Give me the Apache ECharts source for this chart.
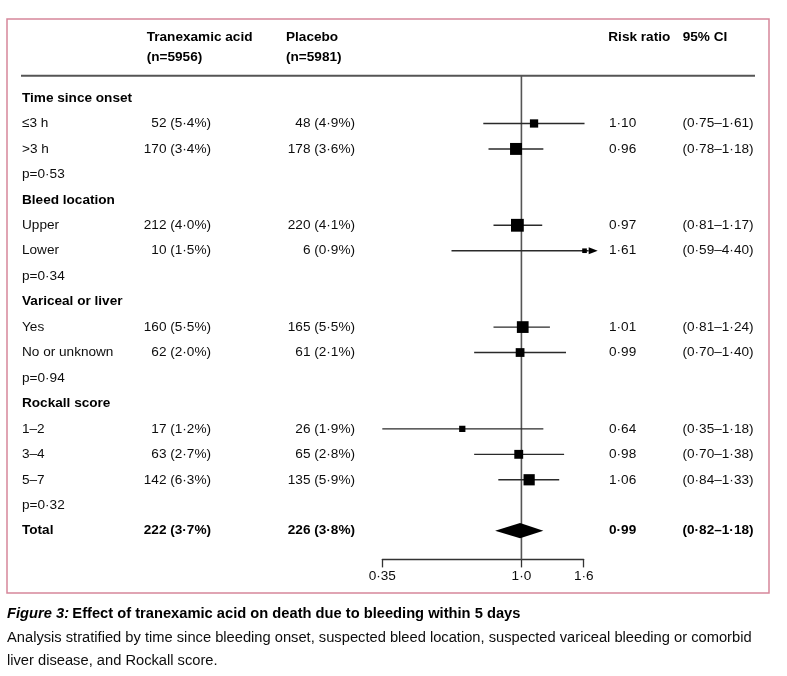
<!DOCTYPE html>
<html><head><meta charset="utf-8">
<script src="https://cdn.jsdelivr.net/npm/echarts@6/dist/echarts.min.js"></script>
<style>html,body{margin:0;padding:0;background:#fff}#c{width:787px;height:676px}</style>
</head><body><div id="c"></div>
<script>
// ---------------- data ----------------
const rowLabels = ['Time since onset', '≤3 h', '>3 h', 'p=0·53',
  'Bleed location', 'Upper', 'Lower', 'p=0·34',
  'Variceal or liver', 'Yes', 'No or unknown', 'p=0·94',
  'Rockall score', '1–2', '3–4', '5–7', 'p=0·32', 'Total'];
const rowKinds = ['group', 'item', 'item', 'p', 'group', 'item', 'item', 'p',
  'group', 'item', 'item', 'p', 'group', 'item', 'item', 'item', 'p', 'total'];
const txaText = ['', '52 (5·4%)', '170 (3·4%)', '', '', '212 (4·0%)', '10 (1·5%)', '',
  '', '160 (5·5%)', '62 (2·0%)', '', '', '17 (1·2%)', '63 (2·7%)', '142 (6·3%)', '', '222 (3·7%)'];
const placeboText = ['', '48 (4·9%)', '178 (3·6%)', '', '', '220 (4·1%)', '6 (0·9%)', '',
  '', '165 (5·5%)', '61 (2·1%)', '', '', '26 (1·9%)', '65 (2·8%)', '135 (5·9%)', '', '226 (3·8%)'];
const riskRatio = [null, 1.10, 0.96, null, null, 0.97, 1.61, null,
  null, 1.01, 0.99, null, null, 0.64, 0.98, 1.06, null, 0.99];
const ciLow = [null, 0.75, 0.78, null, null, 0.81, 0.59, null,
  null, 0.81, 0.70, null, null, 0.35, 0.70, 0.84, null, 0.82];
const ciHigh = [null, 1.61, 1.18, null, null, 1.17, 4.40, null,
  null, 1.24, 1.40, null, null, 1.18, 1.38, 1.33, null, 1.18];
const tickValues = [0.35, 1.0, 1.6];
const tickLabels = ['0·35', '1·0', '1·6'];
const headerTexts = ['Tranexamic acid\n(n=5956)', 'Placebo\n(n=5981)', 'Risk ratio', '95% CI'];
const captionTitle = ['Figure 3:', 'Effect of tranexamic acid on death due to bleeding within 5 days'];
const captionLines = ['Analysis stratified by time since bleeding onset, suspected bleed location, suspected variceal bleeding or comorbid',
  'liver disease, and Rockall score.'];

// ---------------- helpers ----------------
const FONT = '"Liberation Sans", Arial, sans-serif';
const FS = 13.6;
const CAP_FS = 14.7;
const dot = (v, d) => v.toFixed(d).replace('.', '·');
const rrText = riskRatio.map(v => v == null ? '' : dot(v, 2));
const ciText = ciLow.map((v, i) => v == null ? '' : '(' + dot(v, 2) + '–' + dot(ciHigh[i], 2) + ')');
const isBold = i => rowKinds[i] === 'group' || rowKinds[i] === 'total';
const axisMin = tickValues[0], axisMax = tickValues[tickValues.length - 1];
const rowIdx = rowLabels.map((_, i) => String(i));

const GRID_L = 382.3, GRID_R = 583.7, GRID_T = 85.3, GRID_H = 458.1;
const AXIS_Y = GRID_T + GRID_H + 16;
const RULE_Y = 75.7;

function textAxis(position, margin, align, texts) {
  return {
    type: 'category', data: rowIdx, inverse: true, position: position,
    axisLine: {show: false}, axisTick: {show: false}, splitLine: {show: false},
    axisLabel: {
      interval: 0, margin: margin, align: align, hideOverlap: false,
      fontFamily: FONT, fontSize: FS, color: '#0d0d0d',
      formatter: (v, i) => {
        const t = texts[i];
        if (!t) return '';
        return isBold(i) ? '{b|' + t + '}' : t;
      },
      rich: {b: {fontFamily: FONT, fontSize: FS, fontWeight: 'bold', color: '#000'}}
    }
  };
}

const ciData = [];
riskRatio.forEach((v, i) => { if (v != null && rowKinds[i] !== 'total') ciData.push([v, i, ciLow[i], ciHigh[i]]); });
const totalData = [];
riskRatio.forEach((v, i) => { if (v != null && rowKinds[i] === 'total') totalData.push([v, i, ciLow[i], ciHigh[i]]); });

function renderCI(params, api) {
  const rr = api.value(0), row = api.value(1), lo = api.value(2), hi = api.value(3);
  const p = api.coord([rr, row]);
  const y = p[1];
  const xLo = api.coord([Math.max(lo, axisMin), row])[0];
  // an arrow is drawn only when the upper limit runs well past the axis end
  const clipped = hi > axisMax * 1.1;
  const xMaxPix = api.coord([axisMax, row])[0];
  const xHi = clipped ? xMaxPix + 5 : api.coord([hi, row])[0];
  const se = (Math.log(hi) - Math.log(lo)) / 3.92;
  const side = 3.1 * Math.pow(se, -0.6);
  const children = [
    {type: 'line', shape: {x1: xLo, y1: y, x2: xHi, y2: y}, style: {stroke: '#2a2a2a', lineWidth: 1.4}},
    {type: 'rect', shape: {x: p[0] - side / 2, y: y - side / 2, width: side, height: side}, style: {fill: '#000'}}
  ];
  if (clipped) {
    children.push({type: 'polygon', shape: {points: [[xHi, y - 3.6], [xHi + 9, y], [xHi, y + 3.6]]}, style: {fill: '#000'}});
  }
  return {type: 'group', children: children};
}

function renderDiamond(params, api) {
  const rr = api.value(0), row = api.value(1), lo = api.value(2), hi = api.value(3);
  const p = api.coord([rr, row]);
  const xLo = api.coord([lo, row])[0], xHi = api.coord([hi, row])[0];
  const h = 7.6;
  return {type: 'polygon', shape: {points: [[xLo, p[1]], [p[0], p[1] - h], [xHi, p[1]], [p[0], p[1] + h]]}, style: {fill: '#000'}};
}

function renderRef(params, api) {
  const x = api.coord([api.value(0), 0])[0];
  return {type: 'line', shape: {x1: x, y1: RULE_Y, x2: x, y2: AXIS_Y}, style: {stroke: '#555', lineWidth: 1.6}};
}

// ---------------- graphics ----------------
const graphics = [
  {type: 'rect', shape: {x: 7, y: 19, width: 762, height: 574}, style: {fill: 'none', stroke: '#d6879b', lineWidth: 1.5}},
  {type: 'line', shape: {x1: 21, y1: RULE_Y, x2: 755, y2: RULE_Y}, style: {stroke: '#555', lineWidth: 2}}
];
const headerX = [146.7, 286, 608.3, 682.7];
headerTexts.forEach((h, k) => {
  h.split('\n').forEach((line, j) => {
    graphics.push({type: 'text', x: headerX[k], y: 37 + j * 20,
      style: {text: line, fill: '#000', font: 'bold ' + FS + 'px ' + FONT, verticalAlign: 'middle', align: 'left'}});
  });
});
graphics.push({type: 'text', x: 7, y: 614, style: {
  text: '{i|' + captionTitle[0] + '} {b|' + captionTitle[1] + '}', verticalAlign: 'middle', align: 'left',
  rich: {i: {fontFamily: FONT, fontSize: CAP_FS, fontWeight: 'bold', fontStyle: 'italic', fill: '#000'},
         b: {fontFamily: FONT, fontSize: CAP_FS, fontWeight: 'bold', fill: '#000'}}}});
captionLines.forEach((line, j) => {
  graphics.push({type: 'text', x: 7, y: 638 + j * 23,
    style: {text: line, fill: '#0d0d0d', font: CAP_FS + 'px ' + FONT, verticalAlign: 'middle', align: 'left'}});
});

// ---------------- chart ----------------
const chart = echarts.init(document.getElementById('c'), null, {renderer: 'canvas'});
chart.setOption({
  backgroundColor: '#fff',
  animation: false,
  grid: {left: GRID_L, right: 787 - GRID_R, top: GRID_T, height: GRID_H, containLabel: false, outerBoundsMode: 'none'},
  xAxis: {
    type: 'log', logBase: 10, min: axisMin, max: axisMax, offset: 16,
    axisLine: {show: true, lineStyle: {color: '#333', width: 1.3}},
    axisTick: {show: true, length: 8, customValues: tickValues, lineStyle: {color: '#333', width: 1.3}},
    minorTick: {show: false}, splitLine: {show: false},
    axisLabel: {
      customValues: tickValues, margin: 10, fontFamily: FONT, fontSize: FS, color: '#0d0d0d',
      formatter: v => {
        let best = 0;
        tickValues.forEach((t, k) => { if (Math.abs(t - v) < Math.abs(tickValues[best] - v)) best = k; });
        return tickLabels[best];
      }
    }
  },
  yAxis: [
    textAxis('left', GRID_L - 22, 'left', rowLabels),
    textAxis('left', GRID_L - 211, 'right', txaText),
    textAxis('left', GRID_L - 355, 'right', placeboText),
    textAxis('right', 609 - GRID_R, 'left', rrText),
    textAxis('right', 682.5 - GRID_R, 'left', ciText)
  ],
  graphic: graphics,
  series: [
    {type: 'custom', name: 'ref', data: [[1.0, 0]], renderItem: renderRef, clip: false, z: 1, silent: true},
    {type: 'custom', name: 'ci', data: ciData, renderItem: renderCI, clip: false, z: 3, encode: {x: 0, y: 1}},
    {type: 'custom', name: 'total', data: totalData, renderItem: renderDiamond, clip: false, z: 3, encode: {x: 0, y: 1}}
  ]
});
</script></body></html>
